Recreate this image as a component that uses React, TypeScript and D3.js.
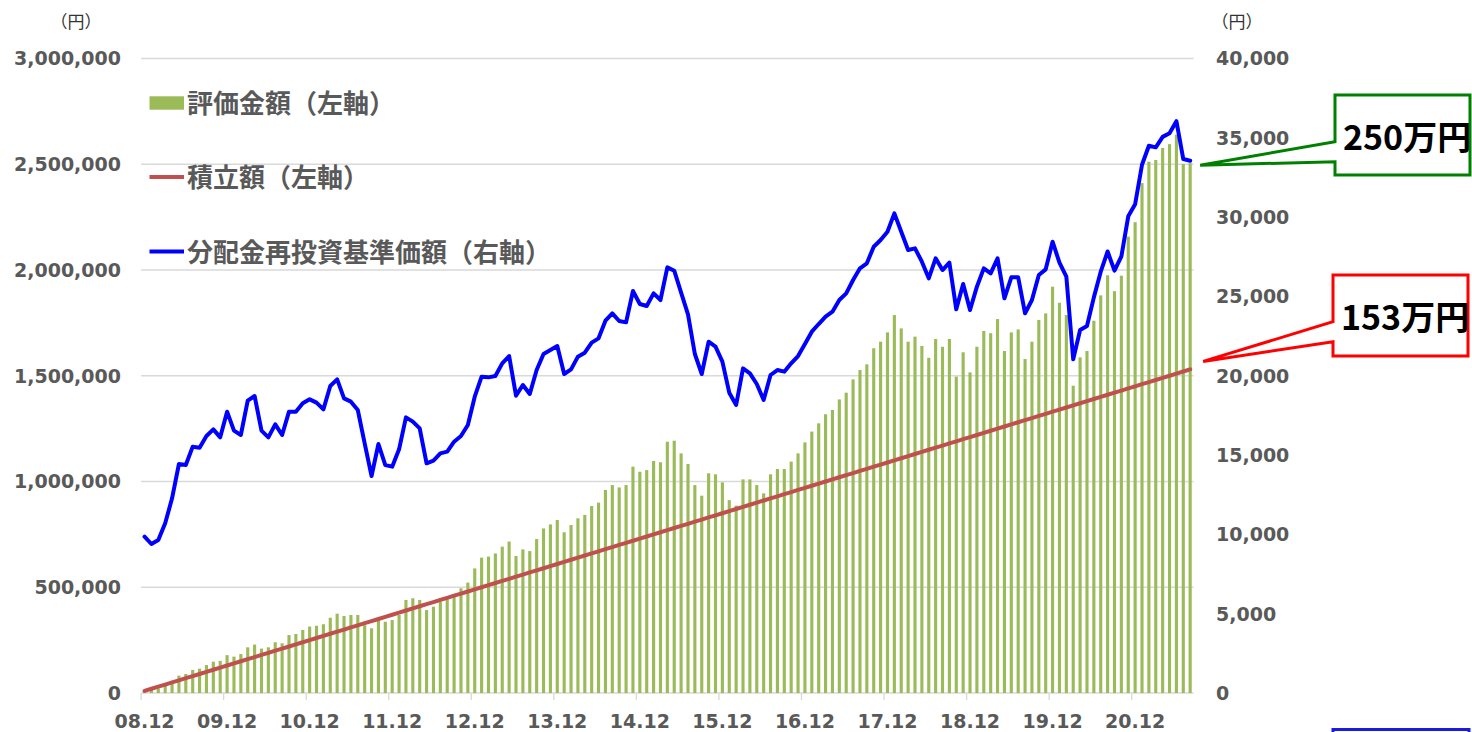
import React from "react";
import * as d3 from "d3";

// 月次（2008年12月〜2021年8月）
const months = d3.timeMonth.range(new Date(2008, 11, 1), new Date(2021, 8, 1));
const categories = months.map(d3.timeFormat("%y.%m"));

const xTickLabels = ["08.12", "09.12", "10.12", "11.12", "12.12", "13.12", "14.12",
  "15.12", "16.12", "17.12", "18.12", "19.12", "20.12"];
const leftTicks = [0, 500000, 1000000, 1500000, 2000000, 2500000, 3000000];
const rightTicks = [0, 5000, 10000, 15000, 20000, 25000, 30000, 35000, 40000];

// 評価金額（千円）
const valuation = [
  10, 18, 22, 34, 46, 82, 90, 109, 115, 132, 148, 152,
  179, 172, 184, 216, 229, 210, 216, 240, 235, 274, 279, 298,
  314, 318, 325, 356, 375, 364, 369, 369, 321, 306, 342, 337,
  345, 369, 440, 448, 440, 392, 408, 432, 443, 455, 495, 522,
  589, 640, 645, 660, 692, 716, 648, 679, 671, 728, 778, 797,
  818, 760, 794, 826, 842, 884, 900, 960, 983, 972, 983, 1070,
  1046, 1054, 1097, 1091, 1188, 1193, 1133, 1083, 983, 933, 1039, 1034,
  996, 912, 886, 1010, 1010, 983, 944, 1034, 1059, 1059, 1094, 1133,
  1185, 1236, 1275, 1318, 1338, 1388, 1420, 1483, 1527, 1554, 1630, 1661,
  1705, 1787, 1724, 1661, 1685, 1641, 1585, 1674, 1637, 1674, 1496, 1611,
  1516, 1637, 1712, 1701, 1768, 1617, 1705, 1719, 1579, 1661, 1764, 1795,
  1921, 1845, 1787, 1453, 1587, 1617, 1760, 1880, 1975, 1900, 1973, 2158,
  2226, 2411, 2512, 2520, 2577, 2595, 2640, 2501, 2505,
];

// 積立額（万円）
const contribution = [
  1, 2, 3, 4, 5, 6, 7, 8, 9, 10, 11, 12,
  13, 14, 15, 16, 17, 18, 19, 20, 21, 22, 23, 24,
  25, 26, 27, 28, 29, 30, 31, 32, 33, 34, 35, 36,
  37, 38, 39, 40, 41, 42, 43, 44, 45, 46, 47, 48,
  49, 50, 51, 52, 53, 54, 55, 56, 57, 58, 59, 60,
  61, 62, 63, 64, 65, 66, 67, 68, 69, 70, 71, 72,
  73, 74, 75, 76, 77, 78, 79, 80, 81, 82, 83, 84,
  85, 86, 87, 88, 89, 90, 91, 92, 93, 94, 95, 96,
  97, 98, 99, 100, 101, 102, 103, 104, 105, 106, 107, 108,
  109, 110, 111, 112, 113, 114, 115, 116, 117, 118, 119, 120,
  121, 122, 123, 124, 125, 126, 127, 128, 129, 130, 131, 132,
  133, 134, 135, 136, 137, 138, 139, 140, 141, 142, 143, 144,
  145, 146, 147, 148, 149, 150, 151, 152, 153,
];

// 分配金再投資基準価額（円）
const nav = [
  9855, 9393, 9645, 10697, 12272, 14436, 14373, 15529, 15465, 16201, 16622, 16117,
  17735, 16538, 16264, 18429, 18723, 16538, 16117, 16937, 16264, 17735, 17735, 18260,
  18512, 18303, 17883, 19353, 19773, 18576, 18366, 17840, 15739, 13680, 15697, 14373,
  14268, 15361, 17378, 17105, 16684, 14478, 14646, 15109, 15214, 15844, 16201, 16895,
  18681, 19942, 19899, 19984, 20783, 21244, 18744, 19416, 18849, 20362, 21371, 21623,
  21875, 20110, 20404, 21203, 21455, 22085, 22358, 23472, 23934, 23451, 23367, 25342,
  24523, 24396, 25195, 24775, 26834, 26624, 25237, 23871, 21371, 20110, 22148, 21833,
  20887, 18933, 18156, 20467, 20152, 19480, 18471, 20047, 20362, 20257, 20783, 21244,
  22001, 22778, 23262, 23724, 24039, 24775, 25195, 26036, 26771, 27087, 28136, 28557,
  29082, 30237, 29082, 27927, 28032, 27192, 26141, 27402, 26666, 27128, 24187, 25783,
  24145, 25615, 26771, 26456, 27402, 24880, 26204, 26204, 23934, 24775, 26351, 26708,
  28452, 27128, 26246, 21035, 22884, 23136, 24940, 26560, 27832, 26628, 27520, 30050,
  30810, 33300, 34500, 34400, 35060, 35290, 36050, 33660, 33556,
];

const legendItems = [
  { label: "評価金額（左軸）", kind: "bar", color: "#9BBB59" },
  { label: "積立額（左軸）", kind: "line", color: "#C0504D" },
  { label: "分配金再投資基準価額（右軸）", kind: "line", color: "#0000FF" },
];

const NUM_FONT = "'DejaVu Sans', Verdana, sans-serif";
const JP_FONT = "'Noto Sans CJK JP', 'Noto Sans', sans-serif";
const GRAY = "#595959";

export default function App() {
  const width = 1472, height = 732;
  const plot = { left: 141.1, right: 1193.6, top: 58.5, bottom: 693 };

  const x = d3.scaleBand<string>().domain(categories).range([plot.left, plot.right]);
  const step = x.bandwidth();
  const cx = (i: number) => (x(categories[i]) as number) + step / 2;
  const barW = step / 2.2;

  const yL = d3.scaleLinear().domain([0, 3000000]).range([plot.bottom, plot.top]);
  const yR = d3.scaleLinear().domain([0, 40000]).range([plot.bottom, plot.top]);
  const fmt = d3.format(",");

  const contribLine = d3.line<number>().x((_, i) => cx(i)).y((d) => yL(d * 10000));
  const navLine = d3.line<number>().x((_, i) => cx(i)).y((d) => yR(d));

  const last = categories.length - 1;
  const callouts = [
    { text: "250万円", color: "#008000", box: [1335, 95, 135, 80], attach: [141.7, 161.7],
      tip: [cx(last) + 10, yL(valuation[last] * 1000) + 2] },
    { text: "153万円", color: "#FF0000", box: [1333, 275, 135, 81], attach: [321.7, 341.7],
      tip: [cx(last) + 13, yL(contribution[last] * 10000) - 8] },
  ];

  const legendRows = [103, 177, 251.5];

  return (
    <svg width={width} height={height} style={{ position: "absolute", left: 0, top: 0, display: "block", background: "#fff" }}>
      {/* gridlines */}
      {leftTicks.map((t) => (
        <line key={"g" + t} x1={plot.left} x2={plot.right} y1={yL(t)} y2={yL(t)}
          stroke="#d9d9d9" strokeWidth={1.3} />
      ))}

      {/* x-axis ticks */}
      {xTickLabels.map((lab) => (
        <line key={"t" + lab} x1={x(lab)} x2={x(lab)} y1={plot.bottom} y2={plot.bottom + 7}
          stroke="#d9d9d9" strokeWidth={1.3} />
      ))}

      {/* bars */}
      {valuation.map((v, i) => (
        <rect key={"b" + i} x={cx(i) - barW / 2} y={yL(v * 1000)} width={barW}
          height={plot.bottom - yL(v * 1000)} fill="#9BBB59" />
      ))}

      <path d={contribLine(contribution) || ""} fill="none" stroke="#C0504D" strokeWidth={4}
        strokeLinejoin="round" strokeLinecap="round" />
      <path d={navLine(nav) || ""} fill="none" stroke="#0000FF" strokeWidth={4}
        strokeLinejoin="round" strokeLinecap="round" />

      {/* left axis labels */}
      {leftTicks.map((t) => (
        <text key={"l" + t} x={121} y={yL(t)} dy="0.36em" textAnchor="end"
          fontFamily={NUM_FONT} fontWeight="bold" fontSize={19} fill={GRAY}>{fmt(t)}</text>
      ))}
      {/* right axis labels */}
      {rightTicks.map((t) => (
        <text key={"r" + t} x={1216} y={yR(t)} dy="0.36em" textAnchor="start"
          fontFamily={NUM_FONT} fontWeight="bold" fontSize={19} fill={GRAY}>{fmt(t)}</text>
      ))}
      {/* x labels */}
      {xTickLabels.map((lab) => (
        <text key={"x" + lab} x={(x(lab) as number) + step / 2} y={728} textAnchor="middle"
          fontFamily={NUM_FONT} fontWeight="bold" fontSize={19} fill={GRAY}>{lab}</text>
      ))}

      {/* units */}
      <text x={76} y={20} textAnchor="middle" dominantBaseline="central" fontFamily={JP_FONT}
        fontSize={17} fill="#333">（円）</text>
      <text x={1237} y={20} textAnchor="middle" dominantBaseline="central" fontFamily={JP_FONT}
        fontSize={17} fill="#333">（円）</text>

      {/* legend */}
      {legendItems.map((it, k) => (
        <g key={"lg" + k}>
          {it.kind === "bar" ? (
            <rect x={149.5} y={legendRows[k] - 6.7} width={34.5} height={13.4} fill={it.color} />
          ) : (
            <line x1={149.5} x2={184} y1={legendRows[k]} y2={legendRows[k]} stroke={it.color} strokeWidth={4} />
          )}
          <text x={187} y={legendRows[k] - 1.5} dominantBaseline="central" fontFamily={JP_FONT}
            fontWeight="bold" fontSize={26} fill={GRAY}>{it.label}</text>
        </g>
      ))}

      {/* callouts */}
      {callouts.map((c) => {
        const [bx, by, bw, bh] = c.box;
        const d = `M${bx},${by} H${bx + bw} V${by + bh} H${bx} V${c.attach[1]} L${c.tip[0]},${c.tip[1]} L${bx},${c.attach[0]} Z`;
        return (
          <g key={c.text}>
            <path d={d} fill="#fff" stroke={c.color} strokeWidth={3} strokeLinejoin="miter" />
            <text x={bx + 8} y={by + bh / 2} dominantBaseline="central" fontFamily={JP_FONT}
              fontWeight="bold" fontSize={34} fill="#000">{c.text}</text>
          </g>
        );
      })}

      {/* partially visible box at the bottom right */}
      <rect x={1333} y={729.5} width={136} height={20} fill="none" stroke="#1a1ae0" strokeWidth={3} />
    </svg>
  );
}
